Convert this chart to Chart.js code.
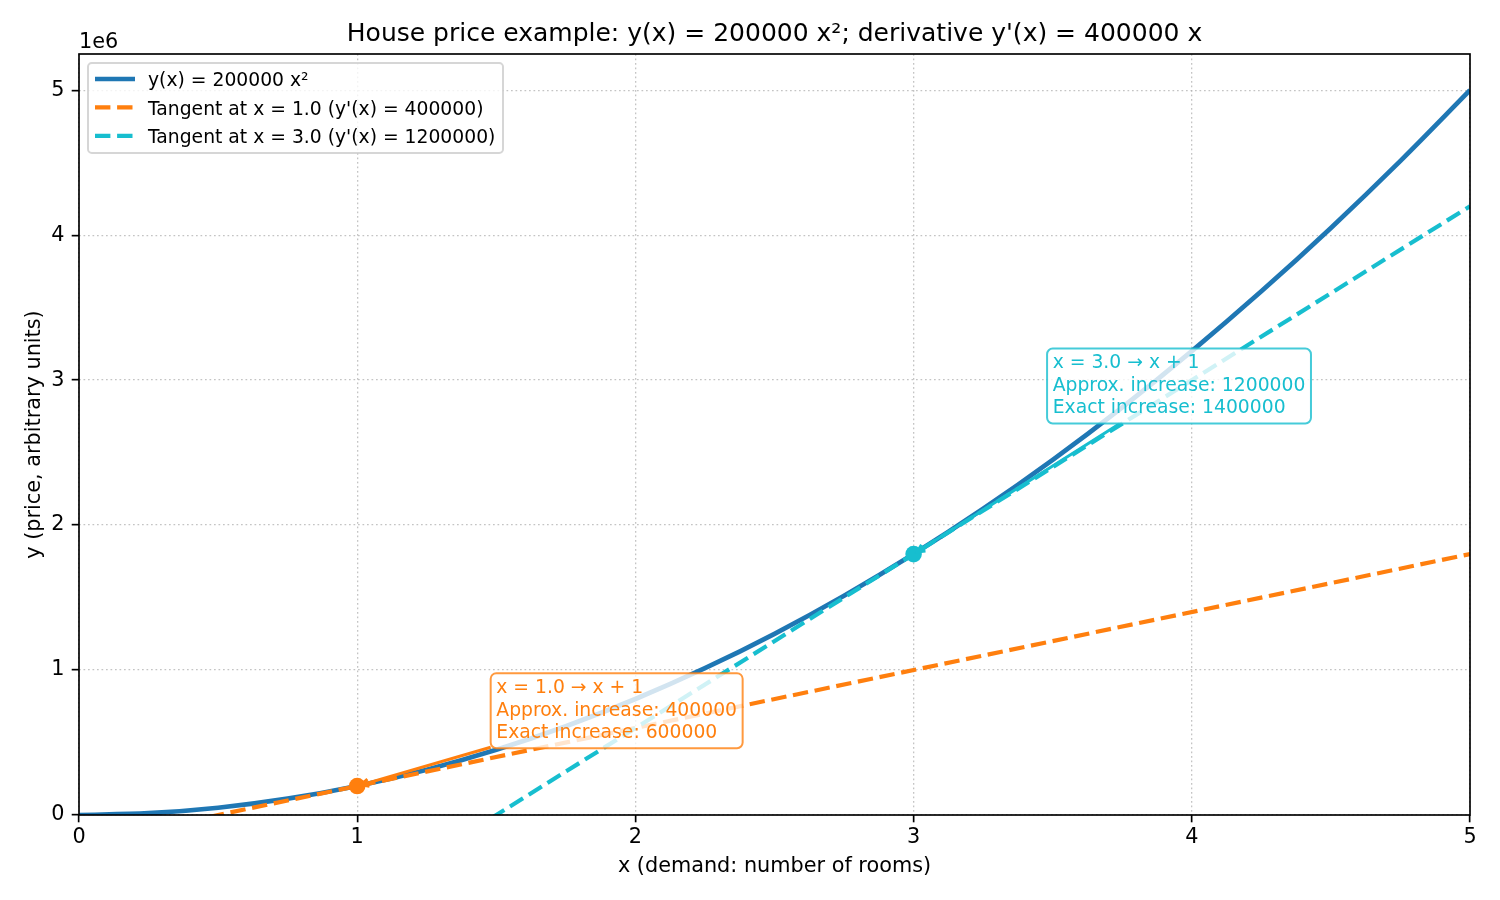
<!DOCTYPE html>
<html>
<head>
<meta charset="utf-8">
<title>House price example</title>
<script src="https://cdn.jsdelivr.net/npm/chart.js@4.4.0/dist/chart.umd.min.js"></script>
<style>
    html, body { margin: 0; padding: 0; background: #fff; }
    #wrap { width: 1500px; height: 900px; }
</style>
</head>
<body>
<div id="wrap"><canvas id="chart" width="1500" height="900"></canvas></div>
<script>
// Data
const curveX = [0, 0.25, 0.5, 0.75, 1, 1.25, 1.5, 1.75, 2, 2.25, 2.5, 2.75, 3, 3.25, 3.5, 3.75, 4, 4.25, 4.5, 4.75, 5];
const curveY = [0, 12500, 50000, 112500, 200000, 312500, 450000, 612500, 800000, 1012500, 1250000,
    1512500, 1800000, 2112500, 2450000, 2812500, 3200000, 3612500, 4050000, 4512500, 5000000];
const tangentX = [0, 5];
const tangent1Y = [-200000, 1800000];
const tangent2Y = [-1800000, 4200000];
const pointX = [1, 3];
const pointY = [200000, 1800000];
const xTicks = [0, 1, 2, 3, 4, 5];
const yTicks = [0, 1, 2, 3, 4, 5];   // in units of 1e6

const seriesLabels = ['y(x) = 200000 x²', "Tangent at x = 1.0 (y'(x) = 400000)", "Tangent at x = 3.0 (y'(x) = 1200000)"];
const annotationLines = [
    ['x = 1.0 → x + 1', 'Approx. increase: 400000', 'Exact increase: 600000'],
    ['x = 3.0 → x + 1', 'Approx. increase: 1200000', 'Exact increase: 1400000']
];
const annotationX = [1.5, 3.5];
const annotationY = [500000, 2740000];

// Styles
const BLUE = '#1f77b4';
const ORANGE = '#ff7f0e';
const CYAN = '#17becf';
const FONT = '"DejaVu Sans", "Liberation Sans", sans-serif';
const FS = 20.8;       // 10pt @150dpi
const FS_SMALL = 18.75; // 9pt
const FS_TITLE = 25;   // 12pt
const DASH = [15.4, 6.7];

function roundedRect(ctx, x, y, w, h, r) {
    ctx.beginPath();
    ctx.moveTo(x + r, y);
    ctx.lineTo(x + w - r, y);
    ctx.arcTo(x + w, y, x + w, y + r, r);
    ctx.lineTo(x + w, y + h - r);
    ctx.arcTo(x + w, y + h, x + w - r, y + h, r);
    ctx.lineTo(x + r, y + h);
    ctx.arcTo(x, y + h, x, y + h - r, r);
    ctx.lineTo(x, y + r);
    ctx.arcTo(x, y, x + r, y, r);
    ctx.closePath();
}

// Frame (all four spines)
const framePlugin = {
    id: 'frame',
    afterDatasetsDraw(chart) {
        const { ctx, chartArea: a } = chart;
        ctx.save();
        ctx.strokeStyle = '#000';
        ctx.lineWidth = 1.67;
        ctx.strokeRect(a.left, a.top, a.right - a.left, a.bottom - a.top);
        ctx.restore();
    }
};

// Annotation boxes with arrows
const annotationPlugin = {
    id: 'annotations',
    afterDatasetsDraw(chart) {
        const { ctx, scales: { x, y } } = chart;
        const colors = [ORANGE, CYAN];
        const lh = FS_SMALL * 1.2;
        const pad = 0.3 * FS_SMALL;
        ctx.save();
        ctx.font = FS_SMALL + 'px ' + FONT;
        annotationLines.forEach((lines, i) => {
            const color = colors[i];
            const left = x.getPixelForValue(annotationX[i]);
            const bottom = y.getPixelForValue(annotationY[i]);
            const w = Math.max(...lines.map(l => ctx.measureText(l).width));
            const h = 0.76 * FS_SMALL + (lines.length - 1) * lh + 0.236 * FS_SMALL;
            const top = bottom - h;
            const bx = left - pad, by = top - pad, bw = w + 2 * pad, bh = h + 2 * pad;

            // arrow from box edge to the point
            const cx = bx + bw / 2, cy = by + bh / 2;
            const px = x.getPixelForValue(pointX[i]), py = y.getPixelForValue(pointY[i]);
            const dx = px - cx, dy = py - cy;
            const t = Math.min(dx !== 0 ? (bw / 2) / Math.abs(dx) : Infinity,
                               dy !== 0 ? (bh / 2) / Math.abs(dy) : Infinity);
            const sx = cx + dx * t, sy = cy + dy * t;
            const len = Math.hypot(px - sx, py - sy);
            const ux = (px - sx) / len, uy = (py - sy) / len;
            const ex = px - ux * 4.2, ey = py - uy * 4.2;
            const hl = 7.5, hw = 3.75;
            ctx.strokeStyle = color;
            ctx.lineWidth = 3;
            ctx.lineCap = 'butt';
            ctx.beginPath();
            ctx.moveTo(sx, sy);
            ctx.lineTo(ex, ey);
            ctx.moveTo(ex - ux * hl - uy * hw, ey - uy * hl + ux * hw);
            ctx.lineTo(ex, ey);
            ctx.lineTo(ex - ux * hl + uy * hw, ey - uy * hl - ux * hw);
            ctx.stroke();

            // box
            roundedRect(ctx, bx, by, bw, bh, pad);
            ctx.fillStyle = 'rgba(255,255,255,0.8)';
            ctx.fill();
            ctx.globalAlpha = 0.8;
            ctx.lineWidth = 2;
            ctx.stroke();
            ctx.globalAlpha = 1;

            // text
            ctx.fillStyle = color;
            ctx.textAlign = 'left';
            ctx.textBaseline = 'alphabetic';
            lines.forEach((line, j) => {
                ctx.fillText(line, left, top + 0.76 * FS_SMALL + j * lh);
            });
        });
        ctx.restore();
    }
};

// Title, axis labels, offset text and legend
const textPlugin = {
    id: 'texts',
    afterDraw(chart) {
        const { ctx, chartArea: a } = chart;
        const midX = (a.left + a.right) / 2;
        ctx.save();
        ctx.fillStyle = '#000';
        ctx.textBaseline = 'alphabetic';

        ctx.font = FS_TITLE + 'px ' + FONT;
        ctx.textAlign = 'center';
        ctx.fillText("House price example: y(x) = 200000 x²; derivative y'(x) = 400000 x", midX, 41);

        ctx.font = FS + 'px ' + FONT;
        ctx.fillText('x (demand: number of rooms)', midX, 872);

        ctx.save();
        ctx.translate(40, (a.top + a.bottom) / 2);
        ctx.rotate(-Math.PI / 2);
        ctx.fillText('y (price, arbitrary units)', 0, 0);
        ctx.restore();

        ctx.textAlign = 'left';
        ctx.fillText('1e6', a.left, 48);

        // legend
        const lx = 88, ly = 63, lw = 415, lhgt = 90;
        roundedRect(ctx, lx, ly, lw, lhgt, 3.75);
        ctx.fillStyle = 'rgba(255,255,255,0.8)';
        ctx.fill();
        ctx.strokeStyle = 'rgba(204,204,204,0.8)';
        ctx.lineWidth = 2;
        ctx.stroke();

        const handleColors = [BLUE, ORANGE, CYAN];
        const handleWidths = [4.7, 4.2, 4.2];
        ctx.font = FS_SMALL + 'px ' + FONT;
        seriesLabels.forEach((label, i) => {
            const rowY = 79 + i * 28.4;
            ctx.strokeStyle = handleColors[i];
            ctx.lineWidth = handleWidths[i];
            ctx.setLineDash(i === 0 ? [] : DASH);
            ctx.beginPath();
            ctx.moveTo(95, rowY);
            ctx.lineTo(135, rowY);
            ctx.stroke();
            ctx.setLineDash([]);
            ctx.fillStyle = '#000';
            ctx.fillText(label, 148, rowY + 7.3);
        });
        ctx.restore();
    }
};

function toPoints(xs, ys) {
    return xs.map((v, i) => ({ x: v, y: ys[i] }));
}

const gridStyle = {
    color: 'rgba(176,176,176,0.75)',
    lineWidth: 1.3,
    tickColor: '#000',
    tickWidth: 1.67,
    tickLength: 7.3,
    drawTicks: true
};

const ctx = document.getElementById('chart');
new Chart(ctx, {
    type: 'line',
    data: {
        datasets: [
            {
                data: toPoints(curveX, curveY),
                borderColor: BLUE,
                borderWidth: 4.7,
                pointRadius: 0,
                cubicInterpolationMode: 'monotone',
                clip: 0,
                order: 5
            },
            {
                data: toPoints(tangentX, tangent1Y),
                borderColor: ORANGE,
                borderWidth: 4.2,
                borderDash: DASH,
                pointRadius: 0,
                clip: 0,
                order: 4
            },
            {
                data: toPoints(tangentX, tangent2Y),
                borderColor: CYAN,
                borderWidth: 4.2,
                borderDash: DASH,
                pointRadius: 0,
                clip: 0,
                order: 3
            },
            {
                data: toPoints(pointX.slice(0, 1), pointY.slice(0, 1)),
                showLine: false,
                pointRadius: 8.3,
                pointBorderWidth: 0,
                pointBackgroundColor: ORANGE,
                order: 2
            },
            {
                data: toPoints(pointX.slice(1), pointY.slice(1)),
                showLine: false,
                pointRadius: 8.3,
                pointBorderWidth: 0,
                pointBackgroundColor: CYAN,
                order: 1
            }
        ]
    },
    options: {
        responsive: false,
        animation: false,
        devicePixelRatio: 1,
        layout: { padding: { top: 54, right: 30, left: 0, bottom: 0 } },
        plugins: {
            legend: { display: false },
            tooltip: { enabled: false },
            title: { display: false }
        },
        scales: {
            x: {
                type: 'linear',
                min: 0,
                max: 5,
                afterBuildTicks: (scale) => { scale.ticks = xTicks.map(v => ({ value: v })); },
                afterFit: (scale) => { scale.height = 85; },
                ticks: {
                    color: '#000',
                    font: { family: FONT, size: FS },
                    padding: 3,
                    maxRotation: 0,
                    callback: (v) => String(v)
                },
                grid: gridStyle,
                border: { display: false, dash: [1.7, 2.8] }
            },
            y: {
                type: 'linear',
                min: 0,
                max: 5250000,
                afterBuildTicks: (scale) => { scale.ticks = yTicks.map(v => ({ value: v * 1e6 })); },
                afterFit: (scale) => { scale.width = 79; },
                ticks: {
                    color: '#000',
                    font: { family: FONT, size: FS },
                    padding: 7.3,
                    callback: (v) => String(v / 1e6)
                },
                grid: gridStyle,
                border: { display: false, dash: [1.7, 2.8] }
            }
        }
    },
    plugins: [framePlugin, annotationPlugin, textPlugin]
});
</script>
</body>
</html>
